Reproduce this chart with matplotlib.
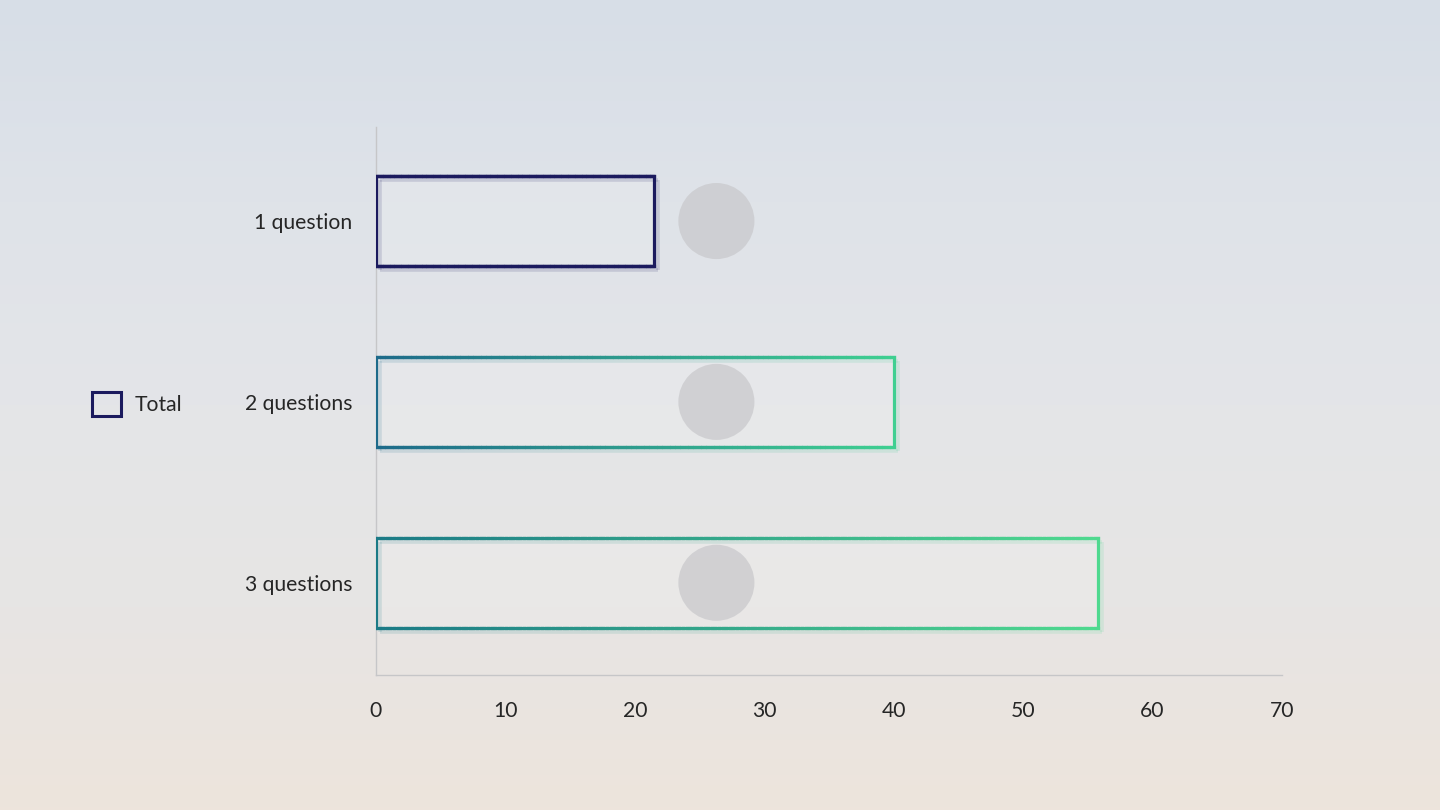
import numpy as np
import matplotlib
matplotlib.use("Agg")
import matplotlib.pyplot as plt
from matplotlib.collections import LineCollection
from matplotlib.colors import LinearSegmentedColormap
from matplotlib.patches import Patch
from matplotlib import transforms

plt.rcParams['font.family'] = ['Lato', 'DejaVu Sans']

# data
categories = ["1 question", "2 questions", "3 questions"]
totals = [21.5, 40.0, 55.8]
marker_x = [26.3, 26.3, 26.3]
xticks = [0, 10, 20, 30, 40, 50, 60, 70]

# edge colours per bar (left -> right)
edge_left = ["#1b1a5e", "#1d6a8a", "#1b7a86"]
edge_right = ["#1b1a5e", "#3fcf91", "#4fd98f"]

fig = plt.figure(figsize=(14.4, 8.1), dpi=100)

# background gradient
bg = fig.add_axes([0, 0, 1, 1], zorder=-10)
bg_cmap = LinearSegmentedColormap.from_list(
    "bg", ["#d7dee7", "#dfe3e9", "#e4e5e8", "#e7e5e4", "#ede4dc"])
grad = np.linspace(0, 1, 256).reshape(-1, 1)
bg.imshow(grad, aspect="auto", cmap=bg_cmap, extent=[0, 1, 0, 1], origin="upper")
bg.axis("off")

ax = fig.add_axes([376 / 1440, 1 - 675 / 810, (1282 - 376) / 1440, (675 - 127) / 810])
ax.patch.set_alpha(0)

y = np.arange(len(categories))
bars = ax.barh(y, totals, height=0.5, color="white", alpha=0.12, edgecolor="none", zorder=2)

shadow_tr = transforms.offset_copy(ax.transData, fig=fig, x=4, y=-4, units="dots")

for i, rect in enumerate(bars):
    x0, y0 = rect.get_x(), rect.get_y()
    w, h = rect.get_width(), rect.get_height()
    cmap = LinearSegmentedColormap.from_list("e%d" % i, [edge_left[i], edge_right[i]])
    n = 200
    xs = np.linspace(x0, x0 + w, n + 1)
    segs, cols = [], []
    for a, b in zip(xs[:-1], xs[1:]):
        t = ((a + b) / 2 - x0) / w
        segs.append([(a, y0), (b, y0)])
        cols.append(cmap(t))
        segs.append([(a, y0 + h), (b, y0 + h)])
        cols.append(cmap(t))
    segs.append([(x0, y0), (x0, y0 + h)])
    cols.append(cmap(0.0))
    segs.append([(x0 + w, y0), (x0 + w, y0 + h)])
    cols.append(cmap(1.0))
    sh = LineCollection(segs, colors=cols, linewidths=2.6, alpha=0.14,
                        transform=shadow_tr, zorder=3, capstyle="butt")
    ax.add_collection(sh)
    lc = LineCollection(segs, colors=cols, linewidths=2.3, zorder=4,
                        capstyle="projecting")
    ax.add_collection(lc)

ax.scatter(marker_x, y, s=3000, color="#c9c9cc", alpha=0.75, edgecolors="none", zorder=5)

ax.set_xlim(0, 70)
ax.set_ylim(2.51, -0.52)
ax.set_xticks(xticks)
ax.set_yticks(y)
ax.set_yticklabels(categories)
ax.tick_params(axis="both", length=0, labelsize=15.2, labelcolor="#262626")
ax.tick_params(axis="y", pad=17)
ax.tick_params(axis="x", pad=19)
for s in ["top", "right"]:
    ax.spines[s].set_visible(False)
for s in ["left", "bottom"]:
    ax.spines[s].set_color("#c6c6c8")
    ax.spines[s].set_linewidth(1)

handle = Patch(facecolor="none", edgecolor="#1b1a5e", linewidth=2.2, label="Total")
fig.legend(handles=[handle], loc="center left", bbox_to_anchor=(92 / 1440, 1 - 404 / 810),
           frameon=False, fontsize=15.2, handlelength=1.35, handleheight=1.35,
           handletextpad=0.65, borderpad=0, borderaxespad=0, labelcolor="#262626")

fig.savefig("out.png", dpi=100)
